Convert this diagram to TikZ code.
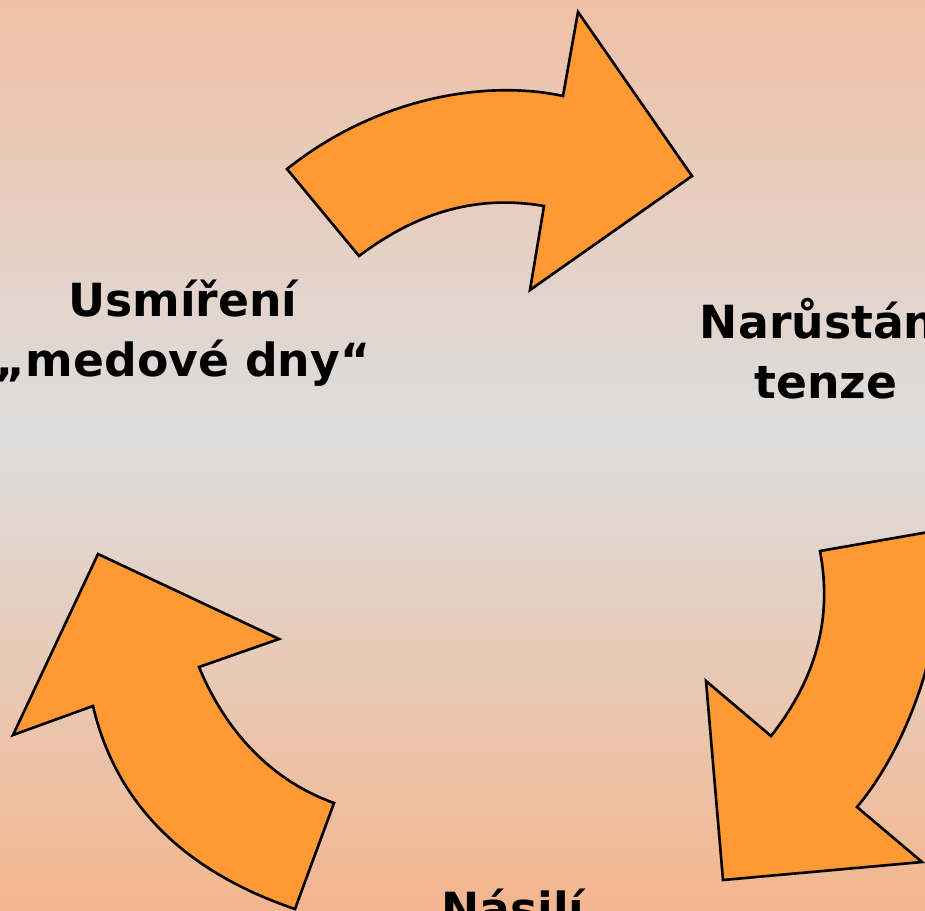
\documentclass[tikz,border=0pt]{standalone}
\usepackage{fontspec}
\setmainfont{DejaVu Sans}
\usetikzlibrary{positioning}

\definecolor{bgtop}{RGB}{240,192,165}
\definecolor{bgmid}{RGB}{221,221,221}
\definecolor{bgbot}{RGB}{243,182,142}
\definecolor{arrowfill}{RGB}{255,153,51}

\begin{document}
\begin{tikzpicture}[
    x=0.02cm, y=-0.02cm,    % 1単位 = 1px
    bigarrow/.style={draw=black, line width=1.5pt, fill=arrowfill, line join=miter},
    phase/.style={font=\fontsize{26}{34}\selectfont\bfseries, align=center, inner sep=0pt}
]

    % --- 背景 ---
    \clip (0,0) rectangle (925,910);
    \shade [top color=bgtop, bottom color=bgmid] (0,0) rectangle (925,430);
    \shade [top color=bgmid, bottom color=bgbot] (0,430) rectangle (925,910);

    % --- 上の矢印 ---
    \draw [bigarrow] (287,169) .. controls (380,95) and (490,80) .. (563,96)
        -- (578,12) -- (692,176) -- (530,290) -- (544,206)
        .. controls (480,195) and (420,210) .. (359,256) -- cycle;

    % --- 右の矢印 ---
    \draw [bigarrow] (820,551) -- (940,530)
        .. controls (950,640) and (905,750) .. (857,807)
        -- (922,862) -- (723,880) -- (706,681) -- (771,736)
        .. controls (815,680) and (833,620) .. (820,551) -- cycle;

    % --- 左の矢印 ---
    \draw [bigarrow] (98,554) -- (279,639) -- (199,667)
        .. controls (225,730) and (270,780) .. (334,803)
        -- (295,909) .. controls (180,870) and (115,800) .. (93,706)
        -- (13,735) -- cycle;

    % --- ラベル（base = 2行目のベースライン） ---
    \node [phase, anchor=base] (usmireni) at (183,376) {Usmíření\\„medové dny“};
    \node [phase, anchor=base] (narustani) at (826,398) {Narůstání\\tenze};
    \node [phase, anchor=base] (nasili) at (513,925) {Násilí};

\end{tikzpicture}
\end{document}
